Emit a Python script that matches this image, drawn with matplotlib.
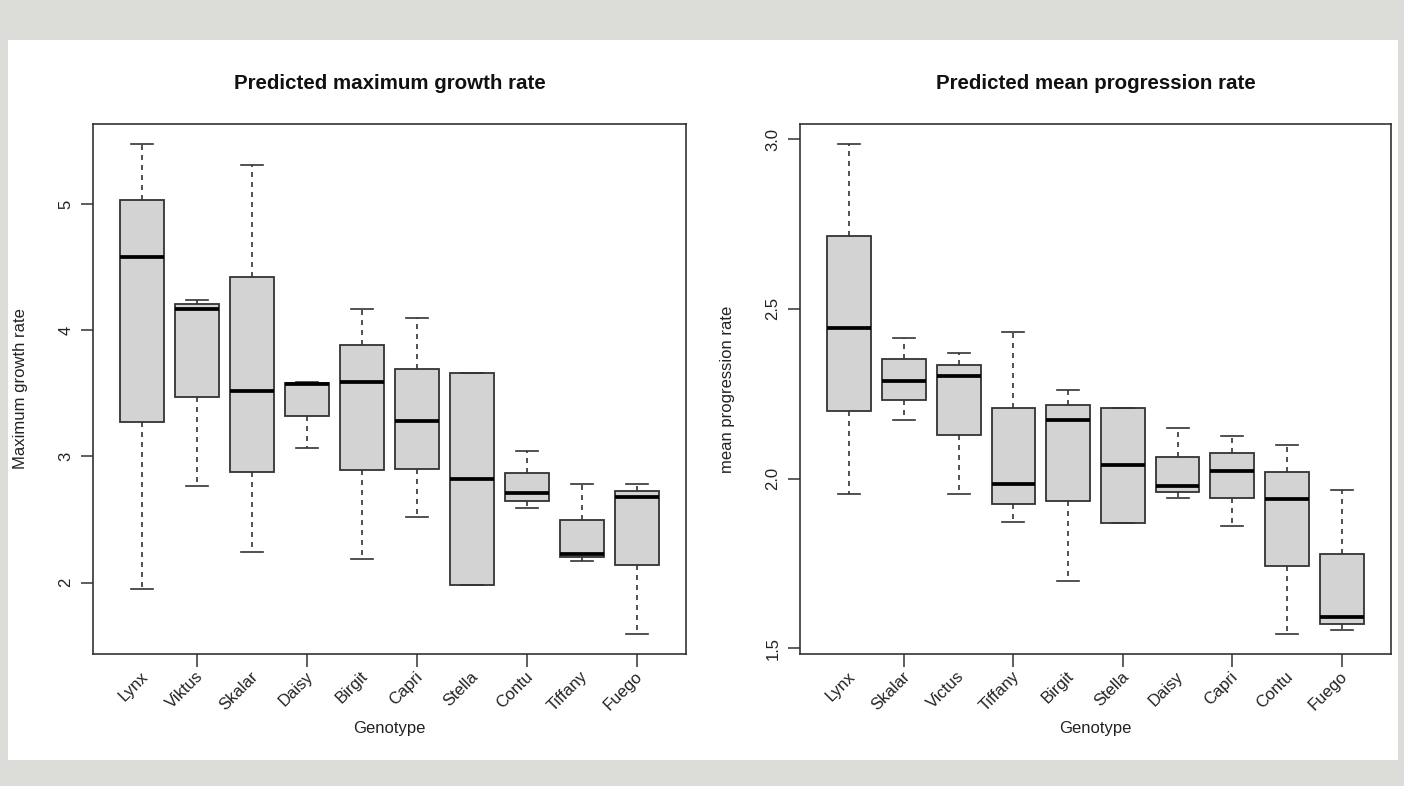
import matplotlib
matplotlib.use("Agg")
import matplotlib.pyplot as plt
from matplotlib.patches import Rectangle
import matplotlib.transforms as mtransforms

plt.rcParams['font.family'] = ['Liberation Sans', 'DejaVu Sans']

# ---- data: left panel (Predicted maximum growth rate) ----
genotypes_left = ["Lynx", "Viktus", "Skalar", "Daisy", "Birgit", "Capri",
                  "Stella", "Contu", "Tiffany", "Fuego"]
whishi_left = [5.48, 4.24, 5.31, 3.59, 4.17, 4.10, 3.66, 3.04, 2.78, 2.78]
q3_left     = [5.03, 4.21, 4.42, 3.585, 3.88, 3.69, 3.66, 2.87, 2.50, 2.73]
med_left    = [4.58, 4.17, 3.52, 3.575, 3.59, 3.28, 2.82, 2.71, 2.23, 2.68]
q1_left     = [3.27, 3.47, 2.88, 3.32, 2.89, 2.90, 1.98, 2.65, 2.20, 2.14]
whislo_left = [1.95, 2.77, 2.24, 3.07, 2.19, 2.52, 1.98, 2.59, 2.17, 1.59]
yticks_left = [2, 3, 4, 5]

# ---- data: right panel (Predicted mean progression rate) ----
genotypes_right = ["Lynx", "Skalar", "Victus", "Tiffany", "Birgit", "Stella",
                   "Daisy", "Capri", "Contu", "Fuego"]
whishi_right = [2.987, 2.413, 2.371, 2.431, 2.260, 2.209, 2.149, 2.126, 2.099, 1.965]
q3_right     = [2.716, 2.351, 2.336, 2.207, 2.216, 2.209, 2.064, 2.074, 2.019, 1.779]
med_right    = [2.444, 2.289, 2.302, 1.984, 2.174, 2.040, 1.979, 2.023, 1.940, 1.591]
q1_right     = [2.198, 2.231, 2.127, 1.926, 1.935, 1.869, 1.961, 1.942, 1.742, 1.573]
whislo_right = [1.954, 2.174, 1.956, 1.871, 1.698, 1.869, 1.944, 1.861, 1.541, 1.555]
yticks_right = [1.5, 2.0, 2.5, 3.0]

W, H = 1404, 786
fig = plt.figure(figsize=(W / 100, H / 100), dpi=100)
fig.patch.set_facecolor('#dcddd9')
fig.patches.append(Rectangle((8 / W, 1 - 760 / H), (1398 - 8) / W, (760 - 40) / H,
                             transform=fig.transFigure, facecolor='white',
                             edgecolor='none', zorder=-5))

EDGE = '#333333'
TXT = '#222222'
FS = 12


def panel(rect, names, whishi, q3, med, q1, whislo, yticks, yfmt, title, ylabel):
    ax = fig.add_axes(rect)
    ax.set_facecolor('white')
    n = len(names)
    stats = []
    for i in range(n):
        stats.append(dict(med=med[i], q1=q1[i], q3=q3[i],
                          whislo=whislo[i], whishi=whishi[i], fliers=[]))
    pos = list(range(1, n + 1))
    ax.bxp(stats, positions=pos, widths=0.8, patch_artist=True,
           showfliers=False, capwidths=0.4,
           boxprops=dict(facecolor='#d3d3d3', edgecolor=EDGE, linewidth=1.3),
           medianprops=dict(color='black', linewidth=2.7, solid_capstyle='butt'),
           whiskerprops=dict(color=EDGE, linewidth=1.2, linestyle=(0, (3, 3))),
           capprops=dict(color=EDGE, linewidth=1.2))
    lo = min(whislo)
    hi = max(whishi)
    r = hi - lo
    ax.set_ylim(lo - 0.04 * r, hi + 0.04 * r)
    ax.set_xlim(0.1, n + 0.9)
    for s in ax.spines.values():
        s.set_color(EDGE)
        s.set_linewidth(1.2)
    ax.set_xticks(pos[1::2])
    ax.set_xticklabels([])
    ax.set_yticks(yticks)
    ax.set_yticklabels([yfmt.format(v) for v in yticks], rotation=90,
                       va='center', ha='right', fontsize=FS, color=TXT)
    ax.tick_params(axis='both', length=9, width=1.1, color=EDGE, pad=7)
    ax.tick_params(axis='y', pad=5)
    trans = mtransforms.blended_transform_factory(ax.transData, ax.transAxes)
    for i, name in enumerate(names):
        ax.text(pos[i] + 0.06, -0.038, name, rotation=45, rotation_mode='anchor',
                ha='right', va='center', fontsize=FS, color=TXT,
                transform=trans)
    ax.text(0.5, -0.140, "Genotype", transform=ax.transAxes, ha='center',
            va='center', fontsize=FS, color=TXT)
    ax.text(0.5, 1 + 41 / 530, title, transform=ax.transAxes, ha='center',
            va='center', fontsize=14.8, fontweight='bold', color='#111111')
    ax.text(-0.123, 0.5, ylabel, transform=ax.transAxes, ha='center',
            va='center', rotation=90, fontsize=FS, color=TXT)
    return ax


bottom = 1 - 654 / H
height = 530 / H
panel([93 / W, bottom, 593 / W, height], genotypes_left, whishi_left, q3_left,
      med_left, q1_left, whislo_left, yticks_left, "{:g}",
      "Predicted maximum growth rate", "Maximum growth rate")
panel([800 / W, bottom, 591 / W, height], genotypes_right, whishi_right, q3_right,
      med_right, q1_right, whislo_right, yticks_right, "{:.1f}",
      "Predicted mean progression rate", "mean progression rate")

fig.savefig("out.png", dpi=100, facecolor=fig.get_facecolor())
